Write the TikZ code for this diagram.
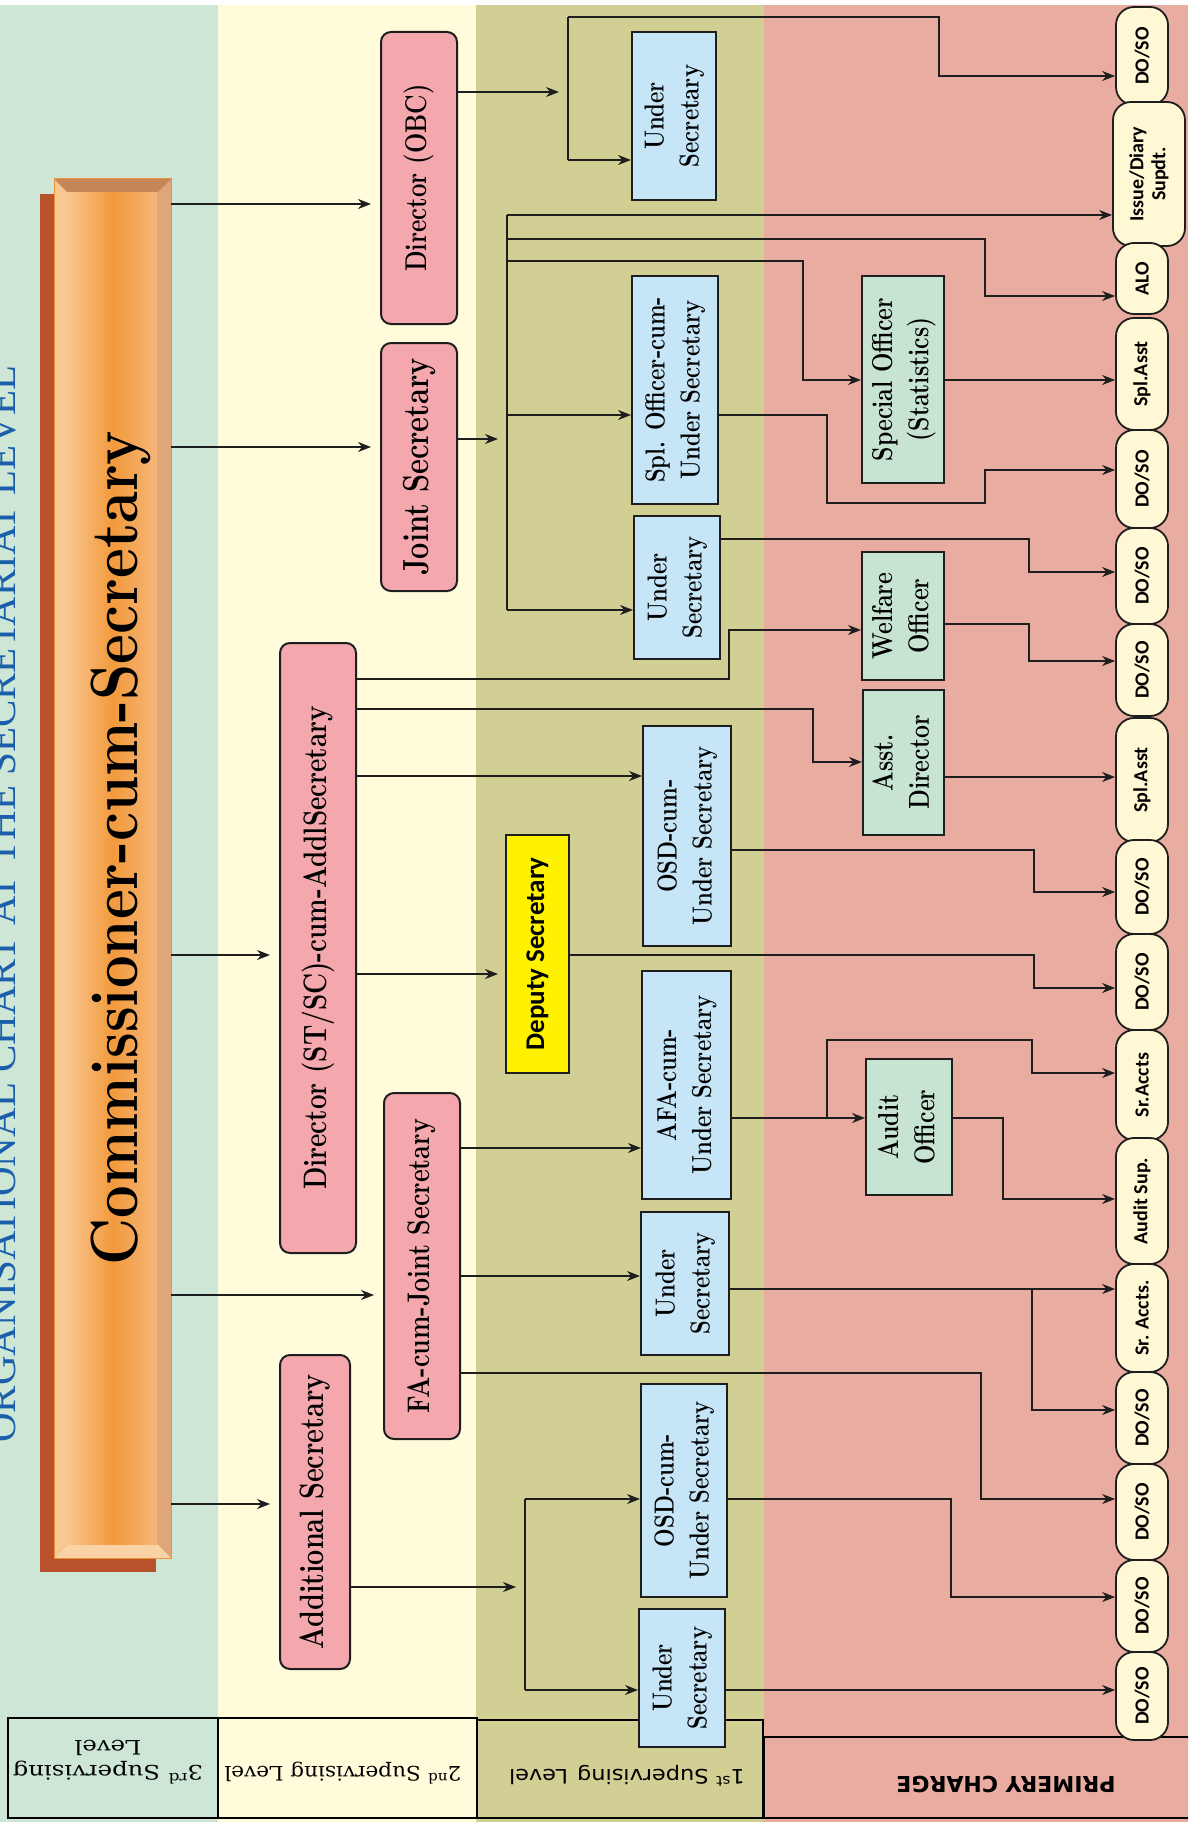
\documentclass[tikz,border=0pt]{standalone}
\usepackage{graphicx}
\usepackage{fontspec}
\usetikzlibrary{arrows.meta}
\newfontfamily\ovalfont{Carlito}
\newfontfamily\labfont{DejaVu Sans}
\newfontfamily\legfont{DejaVu Serif}
\newfontfamily\titlefont{Liberation Serif}
\newcommand{\tall}[1]{\scalebox{1}[1.25]{#1}}
\newcommand{\tallbox}[1]{\scalebox{1}[1.25]{\begin{tabular}{@{}c@{}}#1\end{tabular}}}
\definecolor{bandgreen}{HTML}{CDE6D6}
\definecolor{bandyellow}{HTML}{FFFBDB}
\definecolor{bandolive}{HTML}{D1CF94}
\definecolor{bandpink}{HTML}{E9ACA1}
\definecolor{boxpink}{HTML}{F4A8AE}
\definecolor{boxblue}{HTML}{C6E6F8}
\definecolor{boxgreen}{HTML}{C7E3D1}
\definecolor{ovalcream}{HTML}{FFF8D4}
\definecolor{depyellow}{HTML}{FFF200}
\definecolor{titleblue}{HTML}{1B5EAB}
\definecolor{linedark}{HTML}{1E1E1E}
\definecolor{barshadow}{HTML}{B9512B}
\definecolor{barlight}{HTML}{F9C48E}
\definecolor{barmid}{HTML}{F29A3C}
\definecolor{barlighttwo}{HTML}{F6B678}
\definecolor{barleft}{HTML}{F8C894}
\definecolor{barright}{HTML}{DFA678}
\definecolor{bartop}{HTML}{C68758}
\definecolor{barbottom}{HTML}{F9D3A6}
\definecolor{barline}{HTML}{EE9137}

\begin{document}
\begin{tikzpicture}[x=1pt,y=-1pt,
    line/.style={draw=linedark, line width=1.6pt},
    arr/.style={line, -{Stealth[length=13pt,width=10pt]}},
    gap/.style={shorten >=9pt},
    secondbox/.style={draw=linedark, line width=2pt, fill=boxpink, rounded corners=10pt, rotate=90, inner sep=0pt},
    firstbox/.style={draw=linedark, line width=2pt, fill=boxblue, rotate=90, inner sep=0pt, align=center, font=\fontsize{22}{28}\selectfont\bfseries},
    officebox/.style={draw=linedark, line width=2pt, fill=boxgreen, rotate=90, inner sep=0pt, align=center, font=\fontsize{23}{29}\selectfont\bfseries},
    chargebox/.style={draw=linedark, line width=1.8pt, fill=ovalcream, rounded corners=18pt, rotate=90, inner sep=0pt, minimum height=52pt, align=center, font=\ovalfont\bfseries\fontsize{20}{22}\selectfont}]

    \useasboundingbox (0,0) rectangle (1188,1822);
    \clip (0,0) rectangle (1188,1822);
    \fill[white] (0,0) rectangle (1188,1822);

    % Level bands
    \fill[bandgreen]  (0,5) rectangle (218,1822);
    \fill[bandyellow] (218,5) rectangle (476,1822);
    \fill[bandolive]  (476,5) rectangle (764,1822);
    \fill[bandpink]   (764,5) rectangle (1188,1822);

    % Title
    \node[rotate=90, anchor=base, text=titleblue, font=\titlefont\fontsize{41}{44}\selectfont] (title) at (16,904) {ORGANISATIONAL CHART AT THE SECRETARIAT LEVEL};

    % Commissioner bar
    \fill[barshadow] (40,194) rectangle (156,1572);
    \fill[barleft] (54,179) -- (68,193) -- (68,1544) -- (54,1558) -- cycle;
    \fill[barright] (171,179) -- (157,193) -- (157,1544) -- (171,1558) -- cycle;
    \fill[bartop] (54,179) -- (171,179) -- (157,193) -- (68,193) -- cycle;
    \fill[barbottom] (54,1558) -- (171,1558) -- (157,1544) -- (68,1544) -- cycle;
    \shade[left color=barlight, right color=barlighttwo, middle color=barmid] (68,193) rectangle (157,1544);
    \draw[barline, line width=1pt] (54,179) rectangle (171,1558);
    \node[rotate=90, inner sep=0pt, minimum width=1379pt, minimum height=117pt] (comm) at (112.5,868.5) {};
    \node[rotate=90, anchor=base, font=\fontsize{58}{60}\selectfont\bfseries] (commtext) at (137,848) {\scalebox{1}[1.15]{Commissioner-cum-Secretary}};

    % Legend
    \draw[line width=1.5pt, fill=bandgreen]  (8,1718) rectangle (218,1818);
    \draw[line width=1.5pt, fill=bandyellow] (218,1718) rectangle (477,1818);
    \draw[line width=1.5pt, fill=bandolive]  (477,1720) rectangle (763,1818);
    \draw[line width=1.5pt, fill=bandpink]   (764,1737) rectangle (1192,1818);
    \node[rotate=180, align=center, font=\legfont\fontsize{20}{25}\selectfont] (levthree) at (108,1762) {\scalebox{1.22}[1]{3\textsuperscript{rd} Supervising}\\\scalebox{1.22}[1]{Level}};
    \node[rotate=180, font=\legfont\fontsize{20}{25}\selectfont] (levtwo) at (343,1773) {\scalebox{1.08}[1]{2\textsuperscript{nd} Supervising Level}};
    \node[rotate=180, font=\labfont\fontsize{20}{22}\selectfont] (levone) at (627,1776) {\scalebox{1.12}[1]{1\textsuperscript{st} Supervising\hspace{0.4em}Level}};
    \node[rotate=180, font=\labfont\bfseries\fontsize{22}{24}\selectfont] (primary) at (1006,1784) {PRIMERY CHARGE};

    % 2nd supervising level
    \node[secondbox, minimum width=292pt, minimum height=76pt, font=\fontsize{24}{28}\selectfont\bfseries] (dirobc) at (419,178) {\tall{Director (OBC)}};
    \node[secondbox, minimum width=248pt, minimum height=76pt, font=\fontsize{29}{32}\selectfont\bfseries] (js) at (419,467) {\tall{Joint Secretary}};
    \node[secondbox, minimum width=610pt, minimum height=76pt, font=\fontsize{26}{30}\selectfont\bfseries] (dirst) at (318,948) {\tall{Director (ST/SC)-cum-AddlSecretary}};
    \node[secondbox, minimum width=346pt, minimum height=76pt, font=\fontsize{25}{30}\selectfont\bfseries] (fajs) at (422,1266) {\tall{FA-cum-Joint Secretary}};
    \node[secondbox, minimum width=314pt, minimum height=70pt, font=\fontsize{27}{30}\selectfont\bfseries] (addl) at (315,1512) {\tall{Additional Secretary}};

    % 1st supervising level
    \node[draw=linedark, line width=2pt, fill=depyellow, rotate=90, inner sep=0pt, minimum width=238pt, minimum height=63pt, font=\ovalfont\bfseries\fontsize{27}{30}\selectfont] (deputy) at (537.5,954) {Deputy Secretary};
    \node[firstbox, minimum width=168pt, minimum height=84pt] (usone) at (674,116) {\tallbox{Under\\Secretary}};
    \node[firstbox, minimum width=228pt, minimum height=86pt] (splus) at (675,390) {\tallbox{Spl. Officer-cum-\\Under Secretary}};
    \node[firstbox, minimum width=143pt, minimum height=86pt] (ustwo) at (677,587.5) {\tallbox{Under\\Secretary}};
    \node[firstbox, minimum width=220pt, minimum height=88pt] (osdone) at (687,836) {\tallbox{OSD-cum-\\Under Secretary}};
    \node[firstbox, minimum width=228pt, minimum height=89pt] (afa) at (686.5,1085) {\tallbox{AFA-cum-\\Under Secretary}};
    \node[firstbox, minimum width=143pt, minimum height=88pt] (usthree) at (685,1283.5) {\tallbox{Under\\Secretary}};
    \node[firstbox, minimum width=213pt, minimum height=86pt] (osdtwo) at (684,1490.5) {\tallbox{OSD-cum-\\Under Secretary}};
    \node[firstbox, minimum width=138pt, minimum height=86pt] (usfour) at (682,1678) {\tallbox{Under\\Secretary}};

    % Officers
    \node[officebox, minimum width=207pt, minimum height=82pt] (specoff) at (903,379.5) {\tallbox{Special Officer\\(Statistics)}};
    \node[officebox, minimum width=128pt, minimum height=82pt] (welfare) at (903,616) {\tallbox{Welfare\\Officer}};
    \node[officebox, minimum width=145pt, minimum height=81pt] (asstdir) at (903.5,762.5) {\tallbox{Asst.\\Director}};
    \node[officebox, minimum width=136pt, minimum height=86pt] (audit) at (909,1127) {\tallbox{Audit\\Officer}};

    % Primary charge
    \node[chargebox, minimum width=98pt] (dosoa) at (1142,56) {DO/SO};
    \node[chargebox, minimum width=144pt, minimum height=72pt] (issue) at (1149,174) {Issue/Diary\\Supdt.};
    \node[chargebox, minimum width=71pt] (alo) at (1142,278.5) {ALO};
    \node[chargebox, minimum width=112pt] (splassta) at (1142,374) {Spl.Asst};
    \node[chargebox, minimum width=98pt] (dosob) at (1142,479) {DO/SO};
    \node[chargebox, minimum width=96pt] (dosoc) at (1142,576) {DO/SO};
    \node[chargebox, minimum width=92pt] (dosod) at (1142,670) {DO/SO};
    \node[chargebox, minimum width=124pt] (splasstb) at (1142,780) {Spl.Asst};
    \node[chargebox, minimum width=94pt] (dosoe) at (1142,887) {DO/SO};
    \node[chargebox, minimum width=96pt] (dosof) at (1142,982) {DO/SO};
    \node[chargebox, minimum width=110pt] (sracctsa) at (1142,1085) {Sr.Accts};
    \node[chargebox, minimum width=126pt] (auditsup) at (1142,1201) {Audit Sup.};
    \node[chargebox, minimum width=108pt] (sracctsb) at (1142,1318) {Sr. Accts.};
    \node[chargebox, minimum width=92pt] (dosog) at (1142,1418) {DO/SO};
    \node[chargebox, minimum width=96pt] (dosoh) at (1142,1512) {DO/SO};
    \node[chargebox, minimum width=92pt] (dosoi) at (1142,1606) {DO/SO};
    \node[chargebox, minimum width=88pt] (dosoj) at (1142,1696) {DO/SO};

    % Commissioner to 2nd level
    \draw[arr, gap] (comm.south |- 0,204) -- (dirobc.north |- 0,204);
    \draw[arr, gap] (comm.south |- 0,447) -- (js.north |- 0,447);
    \draw[arr, gap] (comm.south |- 0,955) -- (dirst.north |- 0,955);
    \draw[arr, gap] (comm.south |- 0,1295) -- (fajs.north |- 0,1295);
    \draw[arr, gap] (comm.south |- 0,1504) -- (addl.north |- 0,1504);

    % Director (OBC)
    \coordinate (obcbar) at (568,17);
    \draw[arr, gap] (dirobc.south |- 0,92) -- (obcbar |- 0,92);
    \draw[line] (obcbar) -- (568,160);
    \draw[arr] (obcbar) -| (939,76) -- (dosoa.north |- 0,76);
    \draw[arr] (obcbar |- 0,160) -- (usone.north |- 0,160);

    % Joint Secretary
    \coordinate (jsbar) at (507,215);
    \draw[arr, gap] (js.south |- 0,439) -- (jsbar |- 0,439);
    \draw[line] (jsbar) -- (507,610);
    \draw[arr] (jsbar) -- (issue.north |- jsbar);
    \draw[arr] (jsbar |- 0,239) -| (985,296) -- (alo.north |- 0,296);
    \draw[arr] (jsbar |- 0,261) -| (803,380) -- (specoff.north |- 0,380);
    \draw[arr] (jsbar |- 0,415) -- (splus.north |- 0,415);
    \draw[arr] (jsbar |- 0,610) -- (ustwo.north |- 0,610);
    \draw[arr] (specoff.south |- 0,380) -- (splassta.north |- 0,380);
    \draw[arr] (splus.south |- 0,415) -| (827,503) -| (985,470) -- (dosob.north |- 0,470);
    \draw[arr] (ustwo.south |- 0,539) -| (1029,572) -- (dosoc.north |- 0,572);

    % Director (ST/SC)
    \draw[arr] (dirst.south |- 0,679) -| (729,630) -- (welfare.north |- 0,630);
    \draw[arr] (dirst.south |- 0,709) -| (813,762) -- (asstdir.north |- 0,762);
    \draw[arr] (dirst.south |- 0,776) -- (osdone.north |- 0,776);
    \draw[arr, shorten >=7pt] (dirst.south |- 0,974) -- (deputy.north |- 0,974);
    \draw[arr] (welfare.south |- 0,624) -| (1029,661) -- (dosod.north |- 0,661);
    \draw[arr] (asstdir.south |- 0,777) -- (splasstb.north |- 0,777);
    \draw[arr] (osdone.south |- 0,850) -| (1034,892) -- (dosoe.north |- 0,892);
    \draw[arr] (deputy.south |- 0,955) -| (1034,988) -- (dosof.north |- 0,988);

    % FA-cum-Joint Secretary
    \draw[arr] (fajs.south |- 0,1148) -- (afa.north |- 0,1148);
    \draw[arr] (fajs.south |- 0,1276) -- (usthree.north |- 0,1276);
    \draw[arr] (fajs.south |- 0,1373) -| (981,1499) -- (dosoh.north |- 0,1499);
    \draw[arr] (afa.south |- 0,1118) -- (audit.north |- 0,1118);
    \draw[arr] (827,1118) |- (1032,1040) -- (1032,1073) -- (sracctsa.north |- 0,1073);
    \draw[arr] (audit.south |- 0,1118) -| (1003,1199) -- (auditsup.north |- 0,1199);
    \draw[arr] (usthree.south |- 0,1289) -- (sracctsb.north |- 0,1289);
    \draw[arr] (1032,1289) |- (dosog.north |- 0,1410);
    \draw[arr] (osdtwo.south |- 0,1499) -| (951,1597) -- (dosoi.north |- 0,1597);
    \draw[arr] (usfour.south |- 0,1690) -- (dosoj.north |- 0,1690);

    % Additional Secretary
    \coordinate (addlbar) at (525,1499);
    \draw[arr, gap] (addl.south |- 0,1587) -- (addlbar |- 0,1587);
    \draw[line] (addlbar) -- (525,1690);
    \draw[arr] (addlbar) -- (osdtwo.north |- addlbar);
    \draw[arr] (addlbar |- 0,1690) -- (usfour.north |- 0,1690);

\end{tikzpicture}
\end{document}
